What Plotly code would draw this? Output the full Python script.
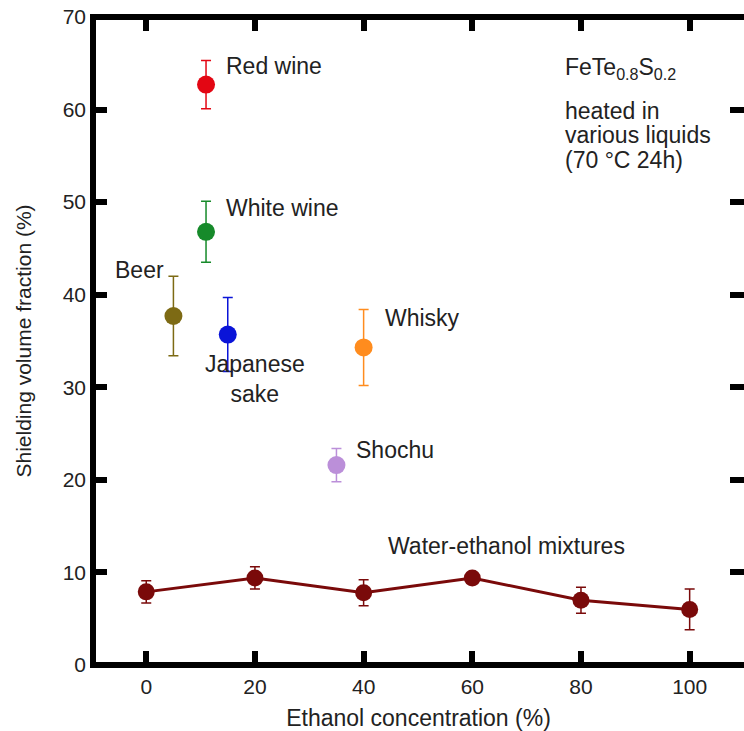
import plotly.graph_objects as go

# Individual liquids
liquids = ["Red wine", "White wine", "Beer", "Japanese sake", "Whisky", "Shochu"]
liq_x = [11, 11, 5, 15, 40, 35]
liq_y = [62.7, 46.8, 37.7, 35.7, 34.3, 21.6]
liq_err = [2.6, 3.3, 4.3, 4.0, 4.1, 1.8]
liq_colors = ["#e30613", "#168a2a", "#7d6a14", "#0a14d8", "#ff8c1e", "#bb8fd9"]

# Water-ethanol mixtures
mix_x = [0, 20, 40, 60, 80, 100]
mix_y = [7.9, 9.4, 7.8, 9.4, 7.0, 6.0]
mix_err = [1.2, 1.2, 1.4, 0.6, 1.4, 2.2]
mix_color = "#7a0a0a"

x_ticks = [0, 20, 40, 60, 80, 100]
y_ticks = [0, 10, 20, 30, 40, 50, 60, 70]

font_family = "Liberation Sans, Arial, Helvetica, sans-serif"
text_color = "#222222"

fig = go.Figure()

fig.add_trace(go.Scatter(
    x=mix_x, y=mix_y, mode="lines+markers",
    line=dict(color=mix_color, width=3),
    marker=dict(color=mix_color, size=17),
    error_y=dict(type="data", array=mix_err, color=mix_color, thickness=1.5, width=5),
    showlegend=False,
))

for name, x, y, e, c in zip(liquids, liq_x, liq_y, liq_err, liq_colors):
    fig.add_trace(go.Scatter(
        x=[x], y=[y], mode="markers", name=name,
        marker=dict(color=c, size=18),
        error_y=dict(type="data", array=[e], color=c, thickness=1.5, width=5),
        showlegend=False,
    ))

lab_font = dict(family=font_family, size=23, color=text_color)
labels = [
    ("Red wine", 14.3, 64.7, "left"),
    ("White wine", 14.3, 49.4, "left"),
    ("Beer", 3.6, 42.7, "right"),
    ("Japanese<br>sake", 20.0, 30.9, "center"),
    ("Whisky", 43.6, 37.5, "left"),
    ("Shochu", 38.3, 23.2, "left"),
    ("Water-ethanol mixtures", 44.2, 12.9, "left"),
    ("FeTe<sub>0.8</sub>S<sub>0.2</sub>", 76.7, 64.4, "left"),
    ("heated in", 76.7, 59.8, "left"),
    ("various liquids", 76.7, 57.2, "left"),
    ("(70 °C 24h)", 76.7, 54.5, "left"),
]
for t, x, y, xa in labels:
    fig.add_annotation(x=x, y=y, text=t, showarrow=False, xanchor=xa, yanchor="middle",
                       align=xa, font=lab_font)

axis_common = dict(
    showline=False, mirror="ticks",
    ticks="inside", ticklen=14, tickwidth=6, tickcolor="black",
    showgrid=False, zeroline=False,
    ticklabeloverflow="allow",
    tickfont=dict(family=font_family, size=21, color=text_color),
)

fig.update_xaxes(range=[-9.8, 110.0], tickvals=x_ticks,
                 ticklabelstandoff=7,
                 title=dict(text="Ethanol concentration (%)", standoff=12,
                            font=dict(family=font_family, size=23, color=text_color)),
                 **axis_common)
fig.update_yaxes(range=[0, 70], tickvals=y_ticks,
                 ticklabelstandoff=6,
                 title=dict(text="Shielding volume fraction (%)", standoff=25,
                            font=dict(family=font_family, size=21, color=text_color)),
                 **axis_common)

# frame drawn centred on the plot-area edges
fig.add_shape(type="rect", xref="paper", yref="paper", x0=0, x1=1.012, y0=0, y1=1,
              line=dict(color="black", width=6), fillcolor="rgba(0,0,0,0)", layer="above")

fig.update_layout(
    width=744, height=731,
    margin=dict(l=93, r=0, t=17, b=66),
    plot_bgcolor="white", paper_bgcolor="white",
)

# remove the default page margin so the figure sits at the page origin
fig.write_html("out.html", config={"displayModeBar": False},
               post_script="document.body.style.margin='0';")
